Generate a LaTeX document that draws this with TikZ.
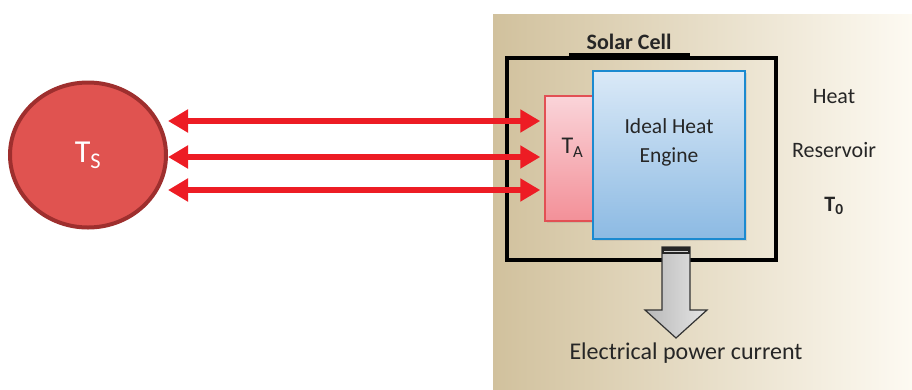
\documentclass[tikz,border=0pt]{standalone}
\usepackage{fontspec}
\setmainfont{Carlito}
\usetikzlibrary{positioning,shapes.geometric,arrows.meta,shadows}
\definecolor{SunRed}{RGB}{224,83,80}
\definecolor{SunRim}{RGB}{158,47,46}
\definecolor{RayRed}{RGB}{237,28,36}
\definecolor{EngineRim}{RGB}{27,138,208}
\definecolor{EngineTop}{RGB}{218,233,247}
\definecolor{EngineBot}{RGB}{140,186,227}
\definecolor{AbsRim}{RGB}{226,80,84}
\definecolor{AbsTop}{RGB}{250,212,217}
\definecolor{AbsBot}{RGB}{243,144,152}
\definecolor{SandDark}{RGB}{209,193,157}
\definecolor{SandMid}{RGB}{240,232,210}
\definecolor{SandLight}{RGB}{253,250,242}
\definecolor{InkGray}{RGB}{38,38,38}

\begin{document}
\begin{tikzpicture}[x=1pt, y=-1pt,
        every node/.style={text=InkGray},
        sun/.style={ellipse, draw=SunRim, line width=4pt, fill=SunRed,
                    minimum width=156pt, minimum height=145pt,
                    font=\fontsize{32}{36}\selectfont},
        ray/.style={{Triangle[length=20pt,width=22pt]}-{Triangle[length=20pt,width=22pt]},
                    line width=6pt, RayRed, shorten >=4pt},
        absbox/.style={rectangle, draw=AbsRim, line width=1.5pt,
                       top color=AbsTop, bottom color=AbsBot,
                       drop shadow={opacity=0.2, shadow xshift=2pt, shadow yshift=-2pt},
                       font=\fontsize{24}{28}\selectfont},
        enginebox/.style={rectangle, draw=EngineRim, line width=1.5pt,
                          top color=EngineTop, bottom color=EngineBot,
                          drop shadow={opacity=0.2, shadow xshift=2pt, shadow yshift=-2pt}},
        cellframe/.style={rectangle, draw=black, line width=3.5pt},
        outarrow/.style={draw=black!80, line width=1.2pt,
                         left color=black!28, right color=black!10},
        plain/.style={font=\fontsize{22}{29}\selectfont, align=center}
    ]
        \useasboundingbox (0,0) rectangle (912,389);
        \shade[left color=SandDark, middle color=SandMid, right color=SandLight]
            (493,14) rectangle (912,389);

        \node[cellframe, minimum width=269pt, minimum height=202pt] (cell) at (641.5,159) {};
        \draw[line width=6pt] (cell.north -| 569,0) -- (cell.north -| 690,0);
        \node[plain, font=\fontsize{22}{29}\selectfont\bfseries] (celltitle) at (629,42) {Solar Cell};

        \node[absbox, minimum width=55pt, minimum height=125pt,
              label={[yshift=11pt, font=\fontsize{24}{28}\selectfont]center:T\textsubscript{A}}]
              (absorber) at (572.5,158.5) {};
        \node[enginebox, minimum width=152pt, minimum height=168pt,
              label={[plain, yshift=13pt, font=\fontsize{21.5}{29}\selectfont]center:Ideal Heat\\Engine}]
              (engine) at (669,155) {};

        \node[sun] (sun) at (88,155) {\textcolor{white}{T\textsubscript{S}}};

        \foreach \y in {121,157,190}
            \draw[ray] (sun.east |- 0,\y) -- (absorber.west |- 0,\y);

        \coordinate (outtop) at (676,247);
        \shadedraw[outarrow] (outtop) ++(-14,0) -- ++(28,0) -- ++(0,63) -- ++(17,0)
            -- ++(-31,28) -- ++(-31,-28) -- ++(17,0) -- cycle;
        \fill[black!85] (outtop) ++(-14,0) rectangle ++(28,7);
        \draw[gray!35, line width=1pt] (outtop) ++(-12,4) -- ++(24,0);

        \node[plain, font=\fontsize{24}{28}\selectfont] (power) at (686,353) {Electrical power current};
        \node[plain, font=\fontsize{22}{54}\selectfont] (reservoir) at (834,152)
            {Heat\\Reservoir\\\textbf{T\textsubscript{0}}};
    \end{tikzpicture}
\end{document}
